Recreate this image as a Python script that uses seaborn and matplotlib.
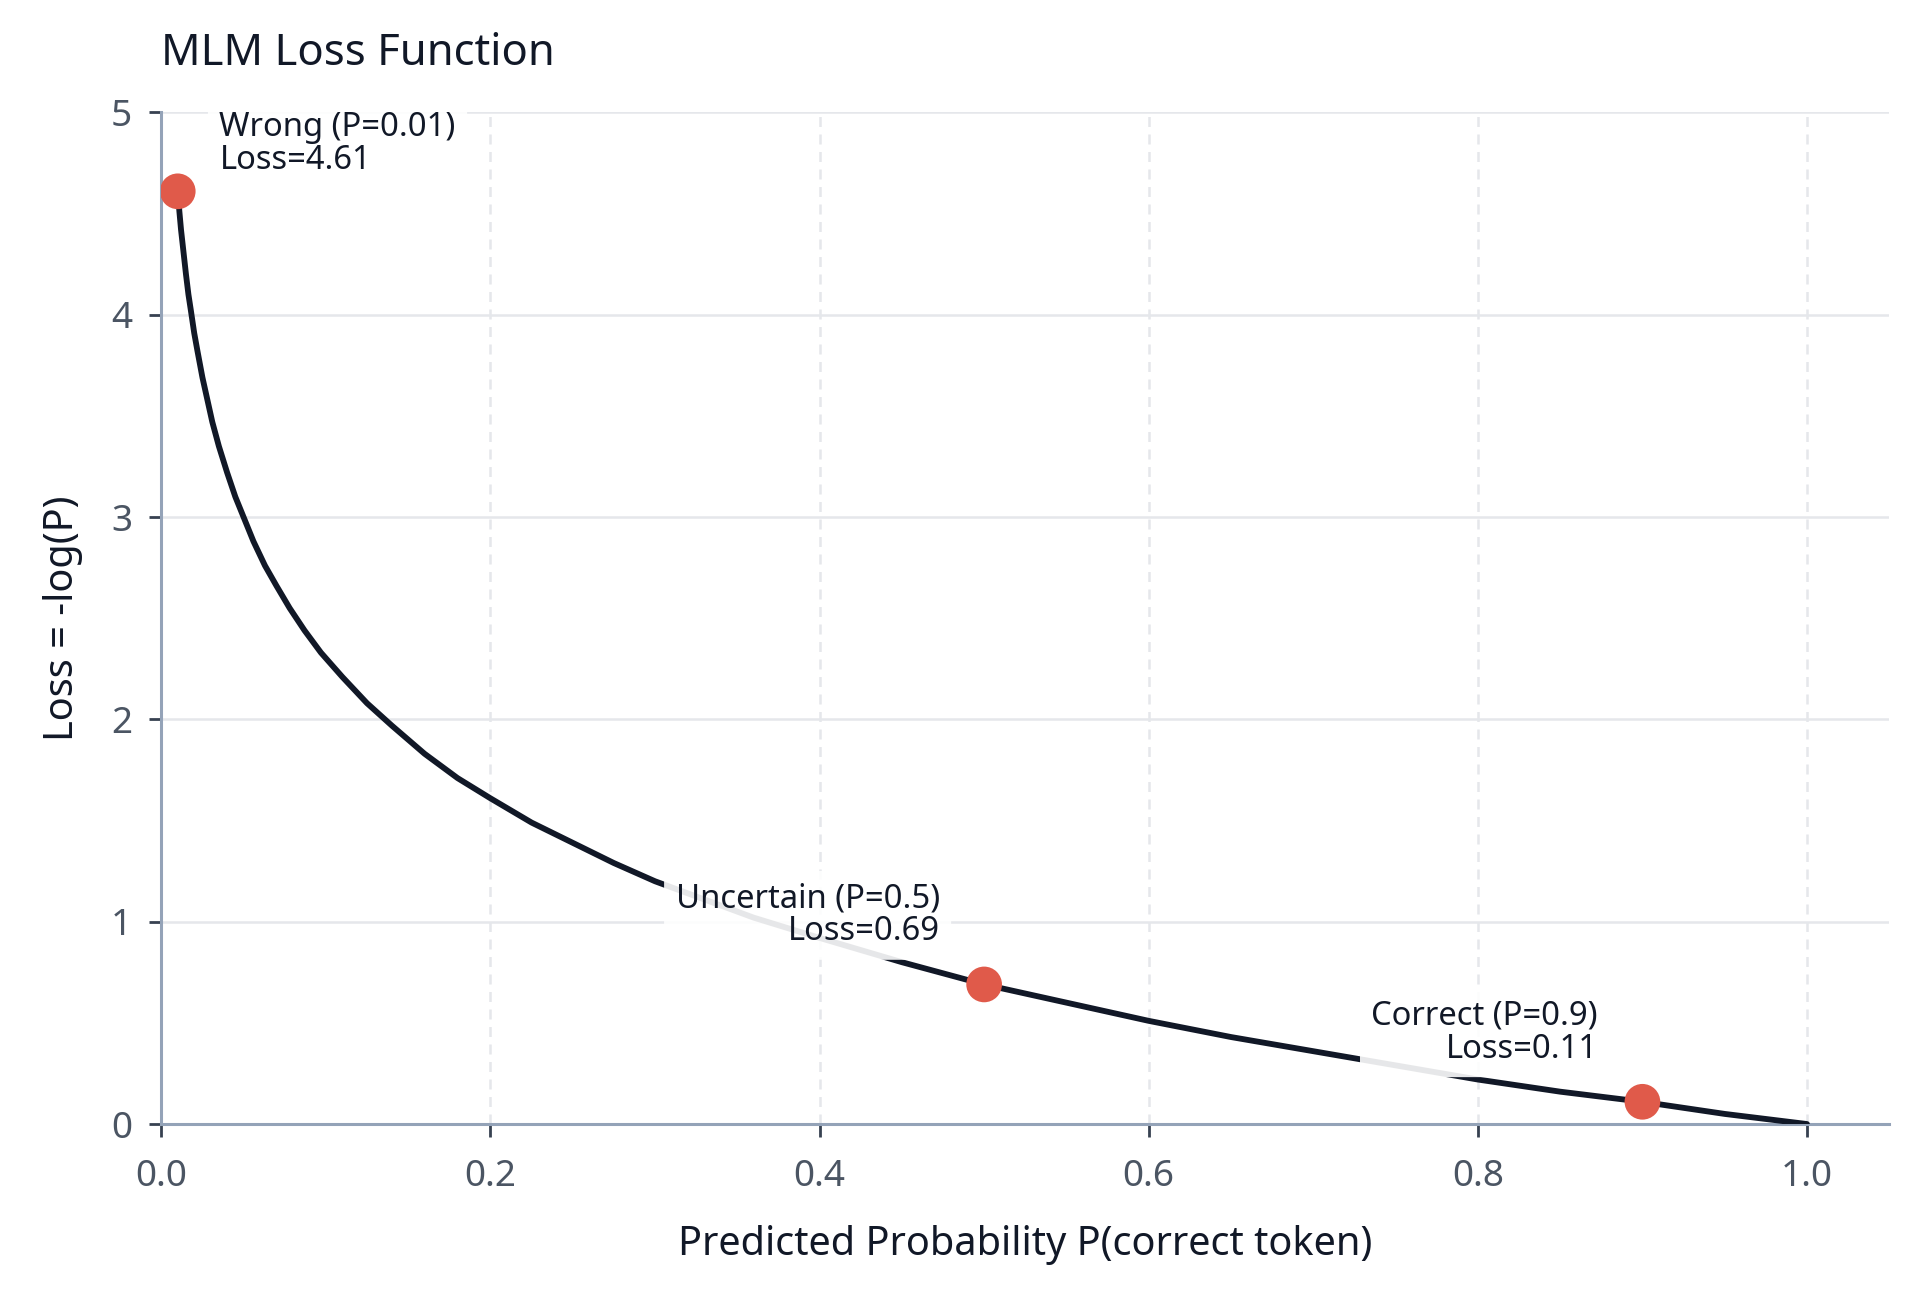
import matplotlib
matplotlib.use("Agg")
import matplotlib.pyplot as plt
import numpy as np
import pandas as pd
import seaborn as sns

# curve values (P vs -log(P))
curve_p = [0.01, 0.011, 0.012, 0.0135, 0.015, 0.0165, 0.018, 0.02, 0.022, 0.025, 0.028, 0.031,
           0.035, 0.04, 0.045, 0.05, 0.056, 0.063, 0.07, 0.078, 0.087, 0.097, 0.11, 0.125,
           0.14, 0.16, 0.18, 0.2, 0.225, 0.25, 0.275, 0.3, 0.33, 0.36, 0.4, 0.45, 0.5,
           0.55, 0.6, 0.65, 0.7, 0.75, 0.8, 0.85, 0.9, 0.95, 1.0]
curve_loss = [4.61, 4.51, 4.42, 4.31, 4.20, 4.10, 4.02, 3.91, 3.82, 3.69, 3.58, 3.47,
              3.35, 3.22, 3.10, 3.00, 2.88, 2.76, 2.66, 2.55, 2.44, 2.33, 2.21, 2.08,
              1.97, 1.83, 1.71, 1.61, 1.49, 1.39, 1.29, 1.20, 1.11, 1.02, 0.92, 0.80, 0.69,
              0.60, 0.51, 0.43, 0.36, 0.29, 0.22, 0.16, 0.11, 0.05, 0.0]

# highlighted points
point_p = [0.01, 0.5, 0.9]
point_loss = [4.61, 0.69, 0.11]
point_names = ["Wrong", "Uncertain", "Correct"]
point_p_text = ["0.01", "0.5", "0.9"]

xticks = [0.0, 0.2, 0.4, 0.6, 0.8, 1.0]
yticks = [0, 1, 2, 3, 4, 5]

sns.set_theme(style="whitegrid")
plt.rcParams['font.family'] = ['Noto Sans', 'DejaVu Sans']

dark = "#111827"
tick_col = "#4b5563"
spine_col = "#94a3b8"
grid_col = "#e5e7eb"
red = "#e05a4a"

fig = plt.figure(figsize=(9.6, 6.46), dpi=200)
ax = fig.add_axes([0.084, 0.130, 0.900, 0.783])

curve = pd.DataFrame({"P": curve_p, "Loss": curve_loss})
sns.lineplot(data=curve, x="P", y="Loss", ax=ax, color=dark, linewidth=2.1, zorder=3)

pts = pd.DataFrame({"P": point_p, "Loss": point_loss})
sns.scatterplot(data=pts, x="P", y="Loss", ax=ax, color=red, s=165, edgecolor="none", zorder=5)

box = dict(boxstyle="round,pad=0.35", facecolor="white", edgecolor="none", alpha=0.9)
for i in range(len(point_p)):
    label = f"{point_names[i]} (P={point_p_text[i]})\nLoss={point_loss[i]:.2f}"
    if i == 0:
        ax.annotate(label, xy=(point_p[i], point_loss[i]), xytext=(15, 5), textcoords="offset points",
                    ha="left", va="bottom", fontsize=11.8, color=dark, bbox=box, zorder=4,
                    multialignment="left", linespacing=1.0)
    else:
        ax.annotate(label, xy=(point_p[i], point_loss[i]), xytext=(-16, 13), textcoords="offset points",
                    ha="right", va="bottom", fontsize=11.8, color=dark, bbox=box, zorder=4,
                    multialignment="right", linespacing=1.0)

ax.set_xlim(0, 1.05)
ax.set_ylim(0, 5)
ax.set_xticks(xticks)
ax.set_yticks(yticks)
ax.set_xticklabels([f"{t:.1f}" for t in xticks])

ax.set_title("MLM Loss Function", loc="left", fontsize=15.7, color=dark, pad=17)
ax.set_xlabel("Predicted Probability P(correct token)", fontsize=14.3, color=dark, labelpad=11)
ax.set_ylabel("Loss = -log(P)", fontsize=14.3, color=dark, labelpad=10)

ax.grid(False)
ax.yaxis.grid(True, color=grid_col, linewidth=0.9, linestyle="-")
ax.xaxis.grid(True, color=grid_col, linewidth=0.9, linestyle=(0, (4, 3)))
ax.set_axisbelow(True)
for side in ["top", "right"]:
    ax.spines[side].set_visible(False)
for side in ["left", "bottom"]:
    ax.spines[side].set_color(spine_col)
    ax.spines[side].set_linewidth(1.1)
ax.tick_params(axis="both", which="major", length=4.5, width=1.0, color="#374151",
               labelsize=13.3, labelcolor=tick_col, direction="out", bottom=True, left=True, pad=6)
ax.tick_params(axis="x", pad=8)
ax.set_facecolor("white")

plt.savefig("out.png", dpi=200, facecolor="white")
